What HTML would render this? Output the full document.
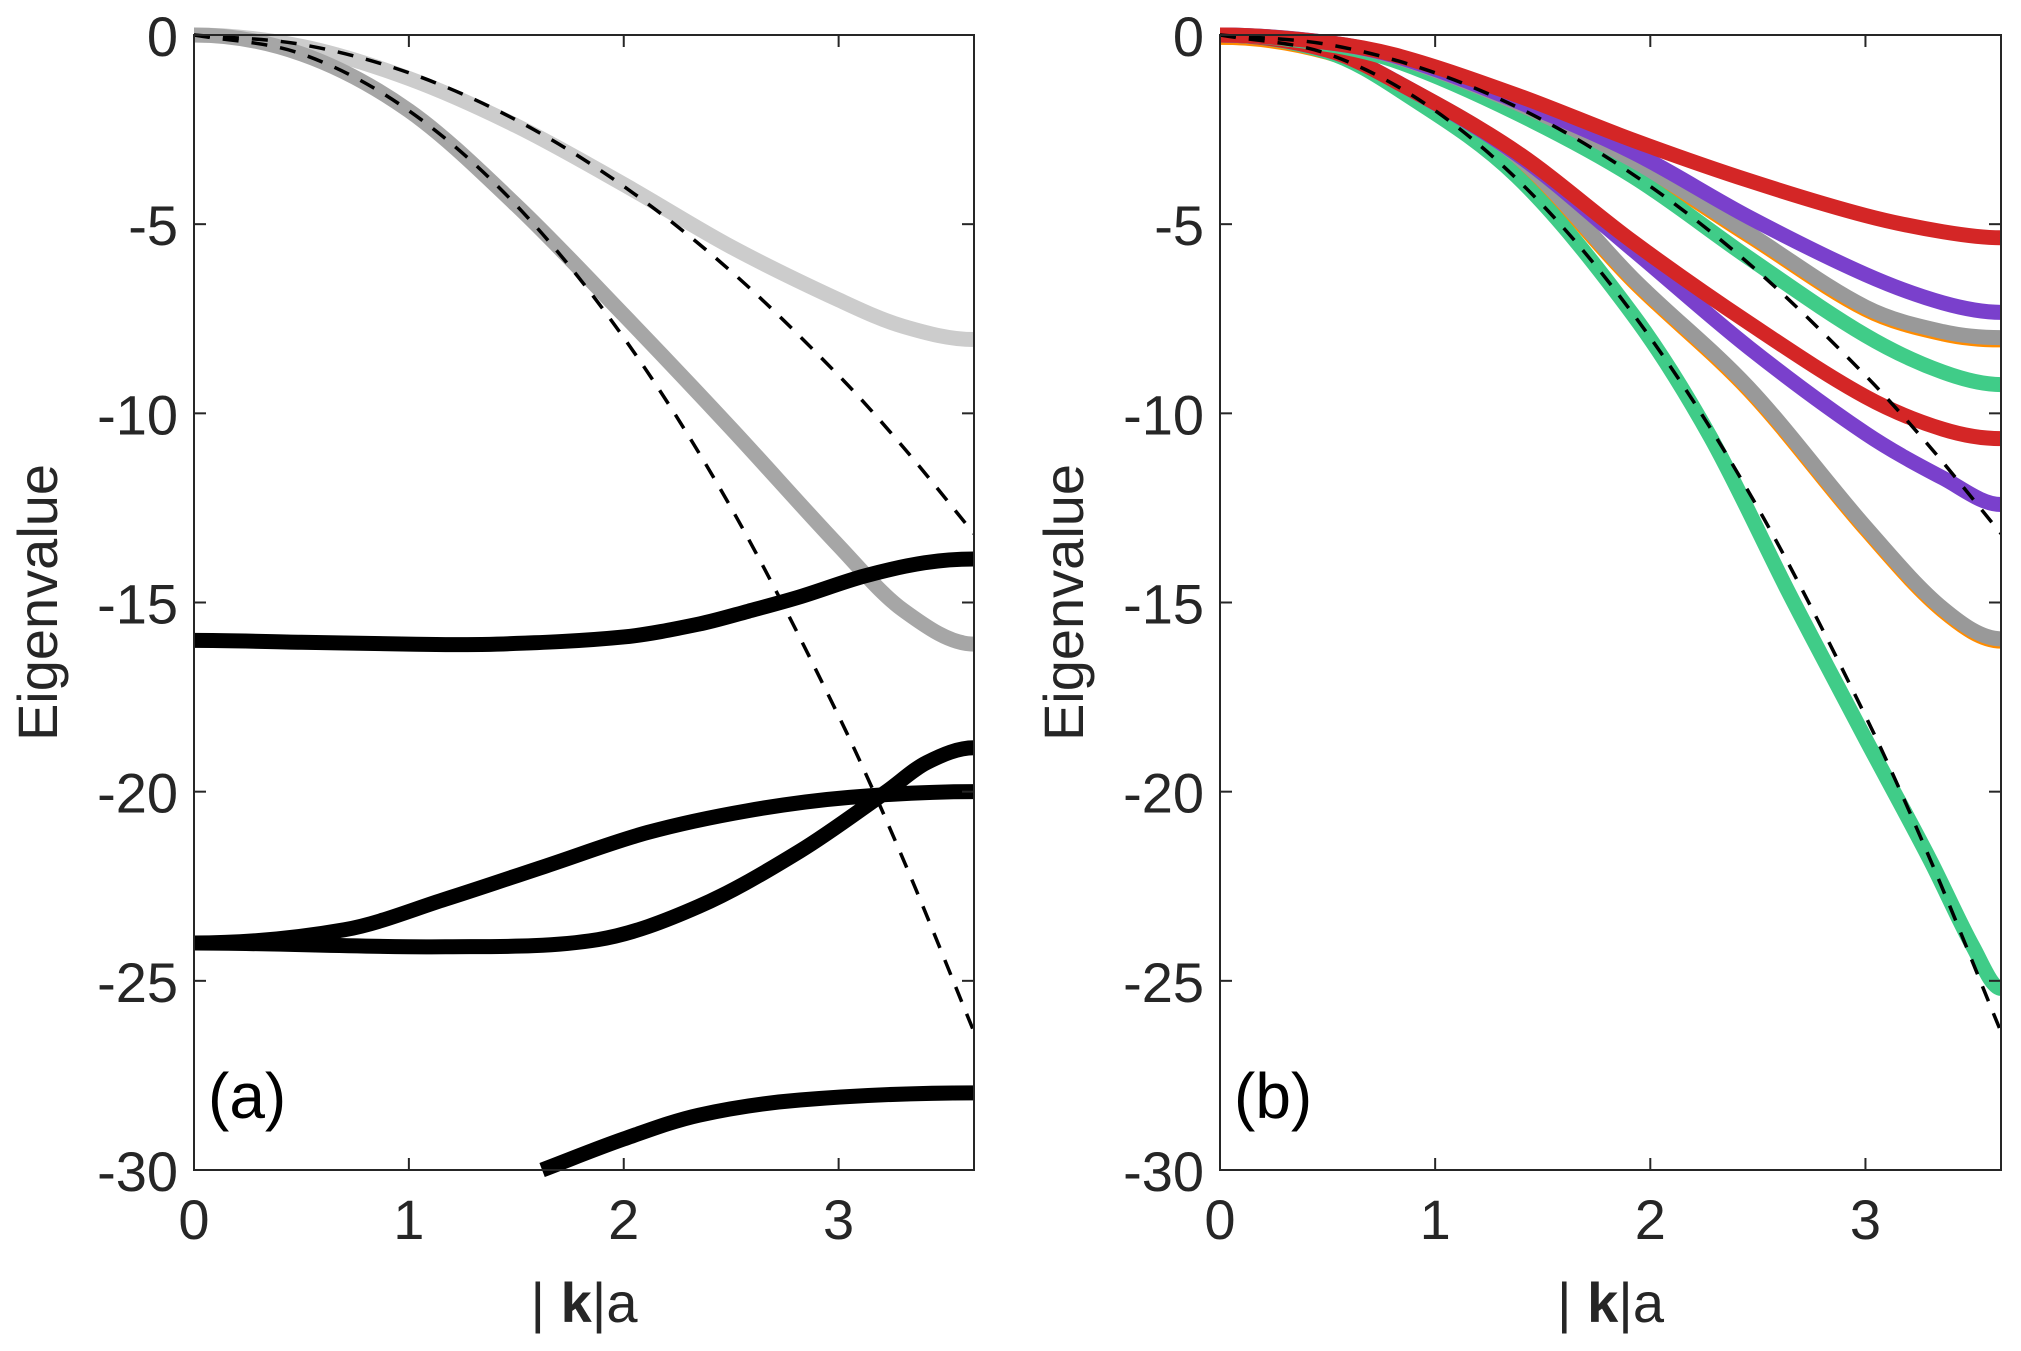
<!DOCTYPE html>
<html><head><meta charset="utf-8"><style>
html,body{margin:0;padding:0;background:#fff;}
svg{display:block;font-family:"Liberation Sans",Arial,sans-serif;}
</style></head><body>
<svg id="fig" width="2021" height="1351" viewBox="0 0 2021 1351" xmlns="http://www.w3.org/2000/svg"></svg>
<script>
// ---- data ----
const xTicks = [0, 1, 2, 3];
const yTicks = [0, -5, -10, -15, -20, -25, -30];
const dashX = [0, 0.5, 1, 1.5, 2, 2.5, 3, 3.3, 3.63];
const dashUpper = [0, -0.25, -1, -2.25, -4, -6.25, -9, -10.89, -13.18];
const dashLower = [0, -0.5, -2, -4.5, -8, -12.5, -18, -21.78, -26.35];

const xA = [0, 0.5, 1, 1.5, 2, 2.5, 3, 3.3, 3.63];
const lightGrayA = [0, -0.3, -1.15, -2.4, -3.95, -5.6, -7.0, -7.7, -8.05];
const darkGrayA = [0, -0.5, -2.0, -4.5, -7.4, -10.4, -13.5, -15.2, -16.1];
const xBlack1 = [0, 0.5, 1, 1.41, 2.0, 2.35, 2.58, 2.82, 3.12, 3.4, 3.63];
const black1 = [-16.0, -16.05, -16.1, -16.1, -15.91, -15.57, -15.23, -14.85, -14.3, -13.95, -13.85];
const xBlack2 = [0, 0.7, 1.17, 1.64, 2.11, 2.58, 3.05, 3.63];
const black2 = [-24, -23.65, -22.84, -21.96, -21.08, -20.5, -20.15, -20.0];
const xBlack3 = [0, 1.17, 1.88, 2.35, 2.82, 3.22, 3.41, 3.63];
const black3 = [-24, -24.1, -23.91, -23.03, -21.57, -20.01, -19.23, -18.84];
const xBlack4 = [1.62, 2.0, 2.35, 2.82, 3.63];
const black4 = [-30, -29.18, -28.55, -28.15, -27.96];

const xC = [0, 0.5, 0.84, 1.38, 1.92, 2.46, 3.0, 3.36, 3.63];
const red1 = [0, -0.2, -0.57, -1.59, -2.78, -3.85, -4.77, -5.2, -5.36];
const purple1 = [0, -0.2, -0.6, -1.75, -3.1, -4.82, -6.33, -7.08, -7.33];
const gray1 = [0, -0.2, -0.62, -1.8, -3.31, -5.25, -7.19, -7.84, -8.0];
const green1 = [0, -0.25, -0.73, -2.07, -3.74, -5.9, -7.94, -8.91, -9.24];
const red2 = [0, -0.4, -1.3, -3.1, -5.47, -7.62, -9.56, -10.42, -10.67];
const purple2 = [0, -0.4, -1.3, -3.15, -5.68, -8.27, -10.53, -11.71, -12.41];
const gray2 = [0, -0.4, -1.3, -3.2, -6.44, -9.34, -13.0, -15.16, -15.96];
const xGreen2 = [0, 0.5, 0.84, 1.38, 1.92, 2.28, 2.64, 2.82, 3.0, 3.3, 3.5, 3.63];
const green2 = [0, -0.45, -1.48, -3.74, -7.4, -10.63, -14.7, -16.66, -18.6, -21.8, -24.1, -25.2];

// ---- drawing ----
const NS = "http://www.w3.org/2000/svg";
const svg = document.getElementById('fig');
const XMAX = 3.63, YMIN = -30, YMAX = 0;
const TOP = 35, BOT = 1170;
function mk(tag, attrs, parent) {
  const e = document.createElementNS(NS, tag);
  for (const k in attrs) e.setAttribute(k, attrs[k]);
  (parent || svg).appendChild(e);
  return e;
}
function makeAxes(L, R) {
  return {
    L, R,
    sx: v => L + (v / XMAX) * (R - L),
    sy: v => TOP + (YMAX - v) / (YMAX - YMIN) * (BOT - TOP)
  };
}
function pathD(ax, xs, ys, flatStart, flatEnd) {
  const n = xs.length;
  const m = xs.map((x, i) => {
    if (i === 0) return flatStart ? 0 : (ys[1] - ys[0]) / (xs[1] - xs[0]);
    if (i === n - 1) return flatEnd ? 0 : (ys[n - 1] - ys[n - 2]) / (xs[n - 1] - xs[n - 2]);
    return (ys[i + 1] - ys[i - 1]) / (xs[i + 1] - xs[i - 1]);
  });
  let d = `M${ax.sx(xs[0])},${ax.sy(ys[0])}`;
  for (let i = 0; i < n - 1; i++) {
    const h = xs[i + 1] - xs[i];
    const c1x = xs[i] + h / 3, c1y = ys[i] + m[i] * h / 3;
    const c2x = xs[i + 1] - h / 3, c2y = ys[i + 1] - m[i + 1] * h / 3;
    d += ` C${ax.sx(c1x)},${ax.sy(c1y)} ${ax.sx(c2x)},${ax.sy(c2y)} ${ax.sx(xs[i + 1])},${ax.sy(ys[i + 1])}`;
  }
  return d;
}
function line(g, ax, xs, ys, color, w, name, dash, flatS, flatE) {
  const e = mk('path', {d: pathD(ax, xs, ys, flatS, flatE), fill: 'none', stroke: color, 'stroke-width': w, 'stroke-linecap': 'butt'}, g);
  if (dash) e.setAttribute('stroke-dasharray', dash);
  
  
}
function panel(L, R, label, id) {
  const ax = makeAxes(L, R);
  const g = mk('g', {});
  
  
  const clip = mk('clipPath', {id: 'clip' + id}, g);
  mk('rect', {x: L, y: TOP - 8, width: R - L, height: BOT - TOP + 16}, clip);
  const plot = mk('g', {'clip-path': `url(#clip${id})`}, g);
  
  
  return {ax, g, plot, label, id};
}
function frame(P) {
  const {ax, g, label, id} = P;
  const c = '#262626';
  const box = mk('rect', {x: ax.L, y: TOP, width: ax.R - ax.L, height: BOT - TOP, fill: 'none', stroke: c, 'stroke-width': 2}, g);
  
  
  yTicks.forEach(v => {
    const y = ax.sy(v);
    mk('line', {x1: ax.L, x2: ax.L + 12, y1: y, y2: y, stroke: c, 'stroke-width': 2}, g);
    mk('line', {x1: ax.R, x2: ax.R - 12, y1: y, y2: y, stroke: c, 'stroke-width': 2}, g);
    const t = mk('text', {x: ax.L - 16, y: y + 21, 'text-anchor': 'end', 'font-size': 56, fill: c}, g);
    t.textContent = String(v);
    
    
  });
  xTicks.forEach(v => {
    const x = ax.sx(v);
    mk('line', {x1: x, x2: x, y1: BOT, y2: BOT - 12, stroke: c, 'stroke-width': 2}, g);
    mk('line', {x1: x, x2: x, y1: TOP, y2: TOP + 12, stroke: c, 'stroke-width': 2}, g);
    const t = mk('text', {x: x, y: BOT + 69, 'text-anchor': 'middle', 'font-size': 56, fill: c}, g);
    t.textContent = String(v);
    
    
  });
  const yl = mk('text', {x: 0, y: 0, transform: `translate(${ax.L - 137},${(TOP + BOT) / 2}) rotate(-90)`, 'text-anchor': 'middle', 'font-size': 56, fill: c}, g);
  yl.textContent = 'Eigenvalue';
  
  
  const xl = mk('text', {x: (ax.L + ax.R) / 2, y: BOT + 152, 'text-anchor': 'middle', 'font-size': 56, fill: c}, g);
  xl.innerHTML = '| <tspan font-weight="bold">k</tspan>|a';
  
  
  const pl = mk('text', {x: ax.L + 14, y: BOT - 52, 'font-size': 64, fill: '#000'}, g);
  pl.textContent = label;
  
  
}

const A = panel(194, 974, '(a)', 'a');
const W = 15;
line(A.plot, A.ax, xA, lightGrayA, '#cccccc', W, 'light-gray-band', null, true, true);
line(A.plot, A.ax, xA, darkGrayA, '#a6a6a6', W, 'dark-gray-band', null, true, true);
line(A.plot, A.ax, xBlack1, black1, '#000', W, 'black-band-1', null, true, true);
line(A.plot, A.ax, xBlack2, black2, '#000', W, 'black-band-2', null, true, true);
line(A.plot, A.ax, xBlack3, black3, '#000', W, 'black-band-3', null, true, true);
line(A.plot, A.ax, xBlack4, black4, '#000', W, 'black-band-4', null, false, true);
line(A.plot, A.ax, dashX, dashUpper, '#000', 3.5, 'dashed-upper', '16 13', false, false);
line(A.plot, A.ax, dashX, dashLower, '#000', 3.5, 'dashed-lower', '16 13', false, false);
frame(A);

const B = panel(1220, 2001, '(b)', 'b');
const orangeOff = gray1.map(v => v - 0.06);
const orangeOff2 = gray2.map(v => v - 0.06);
line(B.plot, B.ax, xC, orangeOff, '#ff8c00', W, 'orange-band-1', null, true, true);
line(B.plot, B.ax, xC, orangeOff2, '#ff8c00', W, 'orange-band-2', null, true, true);
line(B.plot, B.ax, xGreen2, green2, '#40cc88', W, 'green-band-2', null, true, true);
line(B.plot, B.ax, xC, gray2, '#999999', W, 'gray-band-2', null, true, true);
line(B.plot, B.ax, xC, purple2, '#7a40cc', W, 'purple-band-2', null, true, true);
line(B.plot, B.ax, xC, red2, '#d42626', W, 'red-band-2', null, true, true);
line(B.plot, B.ax, xC, green1, '#40cc88', W, 'green-band-1', null, true, true);
line(B.plot, B.ax, xC, gray1, '#999999', W, 'gray-band-1', null, true, true);
line(B.plot, B.ax, xC, purple1, '#7a40cc', W, 'purple-band-1', null, true, true);
line(B.plot, B.ax, xC, red1, '#d42626', W, 'red-band-1', null, true, true);
line(B.plot, B.ax, dashX, dashUpper, '#000', 3.5, 'dashed-upper', '16 13', false, false);
line(B.plot, B.ax, dashX, dashLower, '#000', 3.5, 'dashed-lower', '16 13', false, false);
frame(B);
</script>
</body></html>
